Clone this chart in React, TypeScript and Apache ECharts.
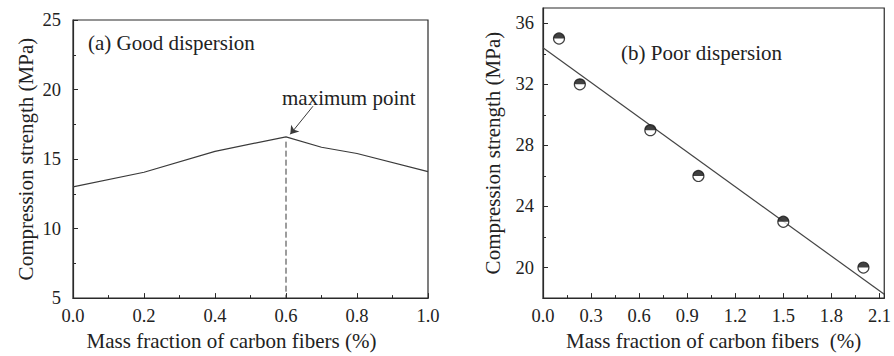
import React, { useEffect, useRef } from "react";
import * as echarts from "echarts";

const serif = "Liberation Serif";

// (a) Good dispersion
const aFraction = [0, 0.2, 0.4, 0.6, 0.7, 0.8, 1.0];
const aStrength = [13.0, 14.05, 15.55, 16.6, 15.85, 15.4, 14.1];
const aMaxX = 0.6;
const aDashTop = 16.25;
const aArrowFrom = [0.676, 18.8];
const aArrowTo = [0.612, 16.78];

// (b) Poor dispersion
const bFraction = [0.1, 0.23, 0.67, 0.97, 1.5, 2.0];
const bStrength = [35.0, 32.0, 29.0, 26.0, 23.0, 20.0];
const bFitX = [0, 2.13];
const bFitY = [34.4, 18.25];
const bYTicks = [20, 24, 28, 32, 36];
const bYMinorTicks = [22, 26, 30, 34];

const axisColor = "#2a2a2a";
const textColor = "#222";

function labelStyle(extra: any = {}) {
  return { fontFamily: serif, fontSize: 18.5, color: textColor, ...extra };
}

export default function App() {
  const ref = useRef<HTMLDivElement>(null);
  useEffect(() => {
    if (!ref.current) return;
    const chart = echarts.init(ref.current, undefined, { renderer: "svg" });
    const commonAxis = {
      axisLine: { show: true, lineStyle: { color: axisColor, width: 1.2 } },
      axisTick: { show: true, inside: true, length: 5, lineStyle: { color: axisColor } },
      minorTick: { show: true, splitNumber: 2, length: 3, lineStyle: { color: axisColor } },
      splitLine: { show: false },
      minorSplitLine: { show: false },
      nameLocation: "middle" as const,
      nameTextStyle: { fontFamily: serif, fontSize: 21, color: textColor },
    };
    const isMultiple = (v: number, step: number) =>
      Math.abs(v / step - Math.round(v / step)) < 1e-6;
    const option: any = {
      animation: false,
      textStyle: { fontFamily: serif },
      grid: [
        { left: 73, top: 20, width: 355, height: 284, show: true, borderColor: axisColor, borderWidth: 1.2, backgroundColor: "transparent" },
        { left: 543, top: 8, width: 350, height: 294, show: true, borderColor: axisColor, borderWidth: 1.2, backgroundColor: "transparent" },
      ],
      xAxis: [
        {
          ...commonAxis,
          type: "value",
          gridIndex: 0,
          min: 0,
          max: 1,
          interval: 0.2,
          name: "Mass fraction of carbon fibers (%)",
          nameGap: 29,
          nameTextStyle: { ...commonAxis.nameTextStyle, padding: [0, 38, 0, 0] },
          axisLabel: labelStyle({ margin: 8, formatter: (v: number) => v.toFixed(1) }),
        },
        {
          ...commonAxis,
          type: "value",
          gridIndex: 1,
          min: 0,
          max: 2.13,
          interval: 0.3,
          name: "Mass fraction of carbon fibers  (%)",
          nameGap: 30,
          axisLabel: labelStyle({
            margin: 8,
            formatter: (v: number) => (isMultiple(v, 0.3) ? v.toFixed(1) : ""),
          }),
        },
      ],
      yAxis: [
        {
          ...commonAxis,
          type: "value",
          gridIndex: 0,
          min: 5,
          max: 25,
          interval: 5,
          name: "Compression strength (MPa)",
          nameGap: 37,
          axisLabel: labelStyle({ margin: 12 }),
        },
        {
          ...commonAxis,
          type: "value",
          gridIndex: 1,
          position: "left",
          min: 18,
          max: 37,
          name: "Compression strength (MPa)",
          nameGap: 40,
          minorTick: { show: false },
          axisTick: { ...commonAxis.axisTick, customValues: bYTicks },
          axisLabel: labelStyle({ margin: 9, customValues: bYTicks }),
        },
        {
          type: "value",
          gridIndex: 1,
          position: "left",
          offset: 0,
          min: 18,
          max: 37,
          axisLine: { show: false },
          axisTick: { show: true, inside: true, length: 3, customValues: bYMinorTicks, lineStyle: { color: axisColor } },
          axisLabel: { show: false, customValues: bYMinorTicks },
          splitLine: { show: false },
        },
      ],
      series: [
        {
          type: "line",
          xAxisIndex: 0,
          yAxisIndex: 0,
          data: aFraction.map((x, i) => [x, aStrength[i]]),
          symbol: "none",
          lineStyle: { color: "#3a3a3a", width: 1.2 },
        },
        {
          type: "line",
          xAxisIndex: 0,
          yAxisIndex: 0,
          data: [
            [aMaxX, aDashTop],
            [aMaxX, 5],
          ],
          symbol: "none",
          lineStyle: { color: "#3a3a3a", width: 1, type: [6, 3] },
          markLine: {
            silent: true,
            symbol: ["none", "arrow"],
            symbolSize: 8,
            label: { show: false },
            lineStyle: { color: "#3a3a3a", width: 1, type: "solid" },
            data: [[{ coord: aArrowFrom }, { coord: aArrowTo }]],
          },
        },
        {
          type: "line",
          xAxisIndex: 1,
          yAxisIndex: 1,
          data: bFitX.map((x, i) => [x, bFitY[i]]),
          symbol: "none",
          lineStyle: { color: "#444", width: 1.2 },
        },
        {
          type: "scatter",
          xAxisIndex: 1,
          yAxisIndex: 1,
          data: bFraction.map((x, i) => [x, bStrength[i]]),
          symbol: "circle",
          symbolSize: 11,
          itemStyle: { color: "#fff", borderColor: "#111", borderWidth: 1.2 },
          z: 3,
        },
        {
          type: "scatter",
          xAxisIndex: 1,
          yAxisIndex: 1,
          data: bFraction.map((x, i) => [x, bStrength[i]]),
          symbol: "path://M0 10 A10 10 0 0 1 20 10 Z",
          symbolSize: [11, 5.5],
          symbolOffset: [0, -2.75],
          itemStyle: { color: "#111" },
          z: 4,
        },
      ],
      graphic: [
        {
          type: "text",
          x: 88,
          y: 43,
          style: { text: "(a) Good dispersion", fontFamily: serif, fontSize: 21, fill: textColor, verticalAlign: "middle" },
        },
        {
          type: "text",
          x: 282,
          y: 98,
          style: { text: "maximum point", fontFamily: serif, fontSize: 21, fill: textColor, verticalAlign: "middle" },
        },
        {
          type: "text",
          x: 621,
          y: 53,
          style: { text: "(b) Poor dispersion", fontFamily: serif, fontSize: 21, fill: textColor, verticalAlign: "middle" },
        },
      ],
    };
    chart.setOption(option);
    return () => chart.dispose();
  }, []);
  return (
    <div
      ref={ref}
      style={{ position: "absolute", left: 0, top: 0, width: 894, height: 356, background: "#fff" }}
    />
  );
}
